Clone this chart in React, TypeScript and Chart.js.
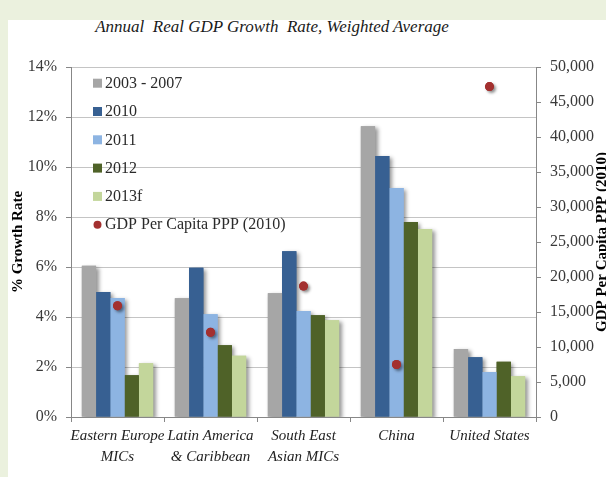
import React, { useEffect, useRef } from "react";
import { Chart, registerables } from "chart.js";

Chart.register(...registerables);

// ---------- data ----------
const categories: (string | string[])[] = [
  ["Eastern Europe", "MICs"],
  ["Latin America", "& Caribbean"],
  ["South East", "Asian MICs"],
  "China",
  "United States",
];
const seriesLabels = ["2003 - 2007", "2010", "2011", "2012", "2013f"];
const growth2003to2007 = [6.05, 4.75, 4.95, 11.63, 2.72];
const growth2010 = [5.0, 5.97, 6.63, 10.44, 2.39];
const growth2011 = [4.76, 4.11, 4.24, 9.16, 1.8];
const growth2012 = [1.67, 2.87, 4.07, 7.8, 2.21];
const growth2013f = [2.15, 2.45, 3.87, 7.52, 1.63];
const gdpLabel = "GDP Per Capita PPP (2010)";
const gdpPerCapita = [15900, 12100, 18700, 7500, 47200];

const titleText = "Annual  Real GDP Growth  Rate, Weighted Average";
const leftAxisTitle = "% Growth Rate";
const rightAxisTitle = "GDP Per Capita PPP (2010)";

const seriesColors = ["#a6a6a6", "#376092", "#8db4e2", "#4f6228", "#c3d69b"];
const dotColor = "#a3302f";

const FONT = "'Liberation Serif', 'DejaVu Serif', serif";
const axisColor = "#878787";
const gridColor = "#c4c4c4";
const tickTextColor = "#3a3a3a";

const seriesValues = [growth2003to2007, growth2010, growth2011, growth2012, growth2013f];

// ---------- plugins ----------
const shadowPlugin = {
  id: "barShadows",
  beforeDatasetsDraw(chart: any) {
    const { ctx, chartArea } = chart;
    ctx.save();
    ctx.beginPath();
    ctx.rect(chartArea.left, chartArea.top, chartArea.right - chartArea.left, chartArea.bottom - chartArea.top);
    ctx.clip();
    ctx.shadowColor = "rgba(0,0,0,0.42)";
    ctx.shadowBlur = 4;
    ctx.shadowOffsetX = 2.5;
    ctx.shadowOffsetY = 2;
    chart.data.datasets.forEach((ds: any, i: number) => {
      const meta = chart.getDatasetMeta(i);
      if (meta.type !== "bar") return;
      meta.data.forEach((el: any) => {
        const { x, y, base, width } = el.getProps(["x", "y", "base", "width"], true);
        ctx.fillStyle = ds.backgroundColor;
        ctx.fillRect(x - width / 2, y, width, base - y);
      });
    });
    ctx.restore();
  },
  beforeDatasetDraw(chart: any, args: any) {
    const meta = args.meta;
    if (meta.type !== "line") return;
    const ctx = chart.ctx;
    ctx.save();
    ctx.shadowColor = "rgba(0,0,0,0.45)";
    ctx.shadowBlur = 3;
    ctx.shadowOffsetX = 2;
    ctx.shadowOffsetY = 2;
    ctx.fillStyle = dotColor;
    meta.data.forEach((el: any) => {
      ctx.beginPath();
      ctx.arc(el.x, el.y, 4.5, 0, Math.PI * 2);
      ctx.fill();
    });
    ctx.restore();
  },
};

const insideLegendPlugin = {
  id: "insideLegend",
  afterDraw(chart: any) {
    const { ctx, chartArea } = chart;
    ctx.save();
    ctx.font = `16px ${FONT}`;
    ctx.textBaseline = "middle";
    ctx.textAlign = "left";
    chart.data.datasets.forEach((ds: any, i: number) => {
      const meta = chart.getDatasetMeta(i);
      const cy = chartArea.top + 16.2 + i * 28.3;
      const bx = chartArea.left + 22;
      if (meta.type === "bar") {
        ctx.fillStyle = ds.backgroundColor;
        ctx.fillRect(bx, cy - 4.5, 9, 9);
      } else {
        ctx.fillStyle = dotColor;
        ctx.beginPath();
        ctx.arc(bx + 4.5, cy, 4, 0, Math.PI * 2);
        ctx.fill();
      }
      ctx.fillStyle = "#2a2a2a";
      ctx.fillText(ds.label, chartArea.left + 34, cy + 0.5);
    });
    ctx.restore();
  },
};

const rightTitlePlugin = {
  id: "rightTitle",
  afterDraw(chart: any) {
    const { ctx, chartArea } = chart;
    ctx.save();
    ctx.font = `bold 15px ${FONT}`;
    ctx.fillStyle = "#000";
    ctx.textAlign = "center";
    ctx.textBaseline = "alphabetic";
    ctx.translate(605.5, (chartArea.top + chartArea.bottom) / 2);
    ctx.rotate(-Math.PI / 2);
    ctx.fillText(rightAxisTitle, 0, 0);
    ctx.restore();
  },
};

export default function App() {
  const canvasRef = useRef<HTMLCanvasElement | null>(null);

  useEffect(() => {
    if (!canvasRef.current) return;
    Chart.defaults.font.family = FONT;
    const barDatasets = seriesLabels.map((label, i) => ({
      type: "bar" as const,
      label,
      data: seriesValues[i],
      backgroundColor: seriesColors[i],
      borderWidth: 0,
      categoryPercentage: 0.767,
      barPercentage: 1.0,
      yAxisID: "y",
      order: 0,
    }));
    const chart = new Chart(canvasRef.current, {
      type: "bar",
      data: {
        labels: categories as any,
        datasets: [
          ...barDatasets,
          {
            type: "line" as const,
            label: gdpLabel,
            data: gdpPerCapita,
            showLine: false,
            pointRadius: 4.5,
            pointHoverRadius: 4.5,
            pointBackgroundColor: dotColor,
            pointBorderColor: dotColor,
            pointBorderWidth: 0,
            backgroundColor: dotColor,
            borderColor: dotColor,
            yAxisID: "y1",
            order: -1,
          } as any,
        ],
      },
      options: {
        responsive: false,
        animation: false,
        events: [],
        layout: { padding: { top: 67, left: 0, right: 0, bottom: 0 } },
        plugins: {
          legend: { display: false },
          title: { display: false },
          tooltip: { enabled: false },
        },
        scales: {
          x: {
            offset: true,
            grid: {
              display: true,
              drawOnChartArea: false,
              drawTicks: true,
              tickLength: 5,
              tickColor: axisColor,
              offset: true,
            },
            border: { display: true, color: axisColor, width: 1 },
            ticks: {
              font: { family: FONT, size: 15, style: "italic", lineHeight: 1.38 },
              color: "#222",
              padding: 4,
              maxRotation: 0,
              autoSkip: false,
            },
            afterFit: (s: any) => {
              s.height = 60;
            },
          },
          y: {
            position: "left",
            min: 0,
            max: 14,
            ticks: {
              stepSize: 2,
              callback: (v: any) => `${v}%`,
              font: { family: FONT, size: 16 },
              color: tickTextColor,
              padding: 9,
            },
            grid: { color: gridColor, lineWidth: 1, tickLength: 5, tickColor: axisColor },
            border: { display: true, color: axisColor, width: 1 },
            title: {
              display: true,
              text: leftAxisTitle,
              font: { family: FONT, size: 15, weight: "bold" },
              color: "#000",
              padding: { top: 9, bottom: 0 },
            },
            afterFit: (s: any) => {
              s.width = 71;
            },
          },
          y1: {
            position: "right",
            min: 0,
            max: 50000,
            ticks: {
              stepSize: 5000,
              callback: (v: any) => Number(v).toLocaleString("en-US"),
              font: { family: FONT, size: 16 },
              color: tickTextColor,
              padding: 9,
            },
            grid: { drawOnChartArea: false, tickLength: 5, tickColor: axisColor },
            border: { display: true, color: axisColor, width: 1 },
            afterFit: (s: any) => {
              s.width = 70;
            },
          },
        },
      } as any,
      plugins: [shadowPlugin, insideLegendPlugin, rightTitlePlugin],
    });
    return () => chart.destroy();
  }, []);

  return (
    <div
      style={{
        position: "fixed",
        left: 0,
        top: 0,
        width: 606,
        height: 477,
        overflow: "hidden",
        background: "#ebf1de",
      }}
    >
      <div
        style={{
          position: "absolute",
          left: 8,
          top: 20,
          right: 0,
          bottom: 0,
          background: "#ffffff",
        }}
      />
      <div
        style={{
          position: "absolute",
          left: 0,
          top: 17,
          width: 544,
          textAlign: "center",
          fontFamily: FONT,
          fontStyle: "italic",
          fontSize: 17,
          lineHeight: "20px",
          whiteSpace: "pre",
          color: "#1a1a1a",
        }}
      >
        {titleText}
      </div>
      <canvas
        ref={canvasRef}
        width={606}
        height={477}
        style={{ position: "absolute", left: 0, top: 0, width: 606, height: 477 }}
      />
    </div>
  );
}
